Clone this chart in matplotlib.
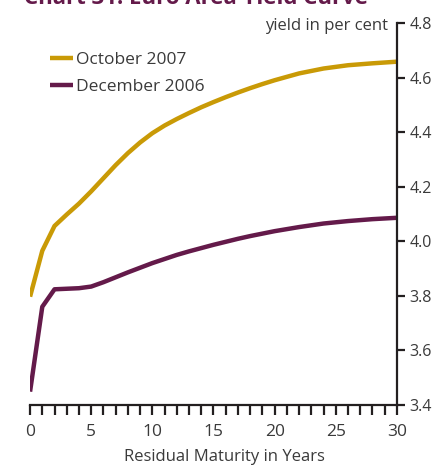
#!/usr/bin/env python3
"""
Euro area yield curve: October 2007 vs December 2006.
"""

import matplotlib
matplotlib.use("Agg")
import matplotlib.pyplot as plt
from matplotlib.ticker import MultipleLocator

# Residual maturity in years
maturity = [0, 1, 2, 3, 4, 5, 6, 7, 8, 9, 10, 11, 12, 13, 14, 15, 16, 17, 18, 19,
            20, 22, 24, 26, 28, 30]

# Yields in per cent
oct_2007 = [3.797, 3.965, 4.056, 4.098, 4.138, 4.183, 4.231, 4.279, 4.323, 4.362,
            4.396, 4.424, 4.448, 4.470, 4.491, 4.510, 4.528, 4.545, 4.561, 4.576,
            4.590, 4.615, 4.633, 4.645, 4.652, 4.658]
dec_2006 = [3.449, 3.760, 3.824, 3.826, 3.828, 3.834, 3.850, 3.868, 3.886, 3.903,
            3.920, 3.935, 3.950, 3.963, 3.975, 3.987, 3.998, 4.009, 4.019, 4.028,
            4.037, 4.052, 4.065, 4.074, 4.081, 4.086]

series_labels = ["October 2007", "December 2006"]
y_ticks = [3.4, 3.6, 3.8, 4.0, 4.2, 4.4, 4.6, 4.8]
x_ticks = [0, 5, 10, 15, 20, 25, 30]

GOLD = "#C99A06"
PURPLE = "#641A4A"
INK = "#231F20"
TEXT = "#3a3a3a"

plt.rcParams["font.family"] = ["Open Sans", "DejaVu Sans"]

fig = plt.figure(figsize=(4.42, 4.68), dpi=100)
ax = fig.add_axes([0.068, 0.1346, 0.830, 0.8164])

ax.plot(maturity, oct_2007, color=GOLD, lw=3.2, label=series_labels[0],
        solid_capstyle="butt", solid_joinstyle="round")
ax.plot(maturity, dec_2006, color=PURPLE, lw=3.2, label=series_labels[1],
        solid_capstyle="butt", solid_joinstyle="round")

ax.set_xlim(0, 30)
ax.set_ylim(3.4, 4.8)

for side in ("left", "top"):
    ax.spines[side].set_visible(False)
for side in ("right", "bottom"):
    ax.spines[side].set_color(INK)
    ax.spines[side].set_linewidth(1.6)

ax.yaxis.tick_right()
ax.set_yticks(y_ticks)
ax.set_yticklabels([f"{v:.1f}" for v in y_ticks])
ax.tick_params(axis="y", direction="out", length=6, width=1.6, color=INK,
               labelsize=11.5, labelcolor=TEXT, pad=3)

ax.set_xticks(x_ticks)
ax.xaxis.set_minor_locator(MultipleLocator(1))
ax.tick_params(axis="x", which="both", direction="out", length=7, width=1.6,
               color=INK, labelsize=12.5, labelcolor=TEXT, pad=7)
ax.set_xlabel("Residual Maturity in Years", fontsize=12, color=TEXT, labelpad=9)
ax.xaxis.set_label_coords(0.53, -0.115)

ax.text(0.975, 0.992, "yield in per cent", transform=ax.transAxes, ha="right",
        va="center", fontsize=12, color=TEXT)

leg = ax.legend(loc="upper left", bbox_to_anchor=(0.055, 0.925), frameon=False,
                fontsize=12.5, handlelength=1.3, handletextpad=0.2,
                labelspacing=0.65, borderaxespad=0, borderpad=0)
for txt in leg.get_texts():
    txt.set_color(TEXT)

# Chart heading sits at the very top edge of the canvas
fig.text(0.055, 1 - 4 / 468, "Chart 31: Euro Area Yield Curve", ha="left",
         va="baseline", fontsize=16, fontweight="bold", color=PURPLE)

fig.savefig("out.png", dpi=100)
